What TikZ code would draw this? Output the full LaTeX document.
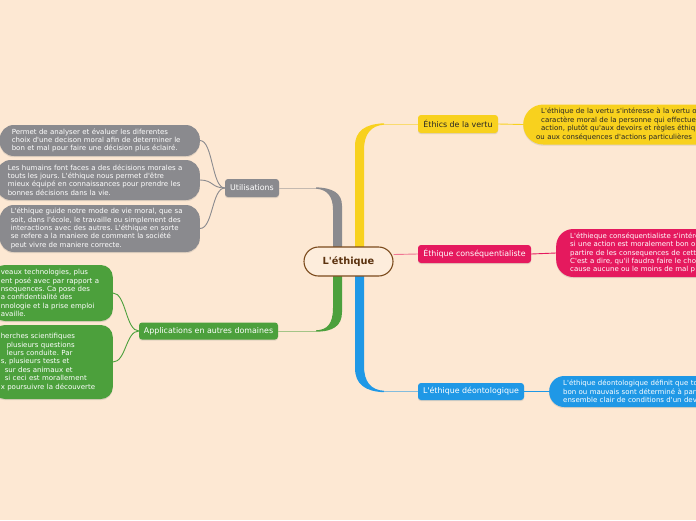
\documentclass[tikz,border=0pt]{standalone}
\usepackage{fontspec}
\setmainfont{DejaVu Sans}[Ligatures=TeXOff]
\frenchspacing
\usetikzlibrary{shadows,calc}
\definecolor{bg}{HTML}{FDE8D3}
\definecolor{gcol}{HTML}{8A8A8E}
\definecolor{grcol}{HTML}{4CA03C}
\definecolor{ycol}{HTML}{F8D11E}
\definecolor{pcol}{HTML}{E5195E}
\definecolor{bcol}{HTML}{1F98E6}
\definecolor{brownline}{HTML}{7B4A1C}
\definecolor{browntext}{HTML}{5C3310}
\tikzset{
  shad/.style={drop shadow={opacity=0.22, shadow xshift=0pt, shadow yshift=-1.2pt}},
  topic/.style={shad, rectangle, rounded corners=3pt, inner sep=0pt, font=\fontsize{7.9}{9}\selectfont},
  leaf/.style={shad, rectangle, align=left, inner ysep=0pt, font=\fontsize{7}{8.4}\selectfont},
  thinlink/.style={line width=0.9pt},
}
\begin{document}
\frenchspacing
\begin{tikzpicture}[x=1pt,y=-1pt]
\useasboundingbox (0,0) rectangle (696,520);
\fill[bg] (0,0) rectangle (696,520);
\clip (0,0) rectangle (696,520);

% main trunks
\fill[ycol] (355,262) -- (355,146) .. controls (355,131) and (365,124) .. (384,123.3) -- (384,124.7) .. controls (371,125.5) and (364,134) .. (364,150) -- (364,262) -- cycle;
\coordinate (ty) at (384,124);
\fill[bcol] (355,262) -- (355,368) .. controls (355,384) and (365,391.5) .. (384,392.2) -- (384,390.8) .. controls (371,390) and (364,382) .. (364,366) -- (364,262) -- cycle;
\coordinate (tb) at (384,391.5);
\fill[gcol] (342,262) -- (342,206) .. controls (342,193) and (333,188) .. (316,187.3) -- (316,188.7) .. controls (327,189.5) and (333,196) .. (333,210) -- (333,262) -- cycle;
\coordinate (tg) at (316,188);
\fill[grcol] (342,262) -- (342,312) .. controls (342,326) and (333,331.5) .. (316,331.7) -- (316,330.3) .. controls (327,330) and (333,324) .. (333,308) -- (333,262) -- cycle;
\coordinate (tgr) at (316,331);

% center
\node[draw=brownline, line width=1.1pt, fill=bg!80!white, rounded corners=14.5pt, minimum width=89pt, minimum height=29pt, inner sep=0pt, text=browntext, font=\fontsize{9.8}{11}\selectfont\bfseries] (c) at (348.5,261.5) {L'éthique};

% topics
\node[topic, fill=ycol, text=black!85, minimum width=80pt, minimum height=18pt] (vertu) at (458,124) {Éthics de la vertu};
\node[topic, fill=pcol, text=white, minimum width=113pt, minimum height=18pt] (conseq) at (474.5,254) {Éthique conséquentialiste};
\node[topic, fill=bcol, text=white, minimum width=106pt, minimum height=17pt] (deonto) at (471,391.5) {L'éthique déontologique};
\node[topic, fill=gcol, text=white, minimum width=54pt, minimum height=18pt] (util) at (252,188) {Utilisations};
\node[topic, fill=grcol, text=white, minimum width=139pt, minimum height=17pt] (appl) at (208.5,331) {Applications en autres domaines};

% trunk ends to topics
\draw[ycol!55!bg, thinlink] (ty) -- (vertu.west);
\draw[bcol!55!bg, thinlink] (tb) -- (deonto.west);
\draw[gcol!50!bg, thinlink] (tg) -- (util.east);
\draw[grcol!50!bg, thinlink] (tgr) -- (appl.east);
\draw[pcol!55!bg, thinlink] ($(c.east)+(0,-7)$) -- (conseq.west);

% gray leaves
\node[leaf, fill=gcol, text=white, rounded corners=14pt, anchor=east, inner xsep=12pt, text width=176pt, minimum height=31pt] (u1) at (200,140.5) {Permet de analyser et évaluer les diferentes\\choix d'une decison moral afin de determiner le\\bon et mal pour faire une décision plus éclairé.};
\node[leaf, fill=gcol, text=white, rounded corners=14pt, anchor=east, inner xsep=11pt, text width=181pt, minimum height=40pt] (u2) at (200,180) {Les humains font faces a des décisions morales a\\touts les jours. L'éthique nous permet d'être\\mieux équipé en connaissances pour prendre les\\bonnes décisions dans la vie.};
\node[leaf, fill=gcol, text=white, rounded corners=14pt, anchor=east, inner xsep=11pt, text width=178pt, minimum height=47pt] (u3) at (200,228.5) {L'éthique guide notre mode de vie moral, que sa\\soit, dans l'école, le travaille ou simplement des\\interactions avec des autres. L'éthique en sorte\\se refere a la maniere de comment la société\\peut vivre de maniere correcte.};

% green leaves
\node[leaf, fill=grcol, text=white, rounded corners=12pt, anchor=east, inner xsep=8pt, text width=104pt, minimum height=56pt] (a1) at (113,293) {veaux technologies, plus\\ent posé avec par rapport a\\nsequences. Ca pose des\\a confidentialité des\\nnologie et la prise emploi\\availle.};
\node[leaf, fill=grcol, text=white, rounded corners=12pt, anchor=east, inner xsep=8pt, text width=104pt, minimum height=74pt] (a2) at (113,362) {herches scientifiques\\\hspace*{6pt}plusieurs questions\\\hspace*{6pt}leurs conduite. Par\\s, plusieurs tests et\\\hspace*{4pt}sur des animaux et\\\hspace*{4pt}si ceci est morallement\\x poursuivre la découverte};

% right leaves
\node[leaf, fill=ycol, text=black!85, rounded corners=20pt, anchor=west, inner xsep=18pt, text width=240pt, minimum height=40pt] (y1) at (523,124.5) {L'éthique de la vertu s'intéresse à la vertu o\\caractère moral de la personne qui effectue\\action, plutôt qu'aux devoirs et règles éthiq\\\hspace*{-5pt}ou aux conséquences d'actions particulières};
\node[leaf, fill=pcol, text=white, rounded corners=17pt, anchor=west, inner xsep=14pt, text width=220pt, minimum height=48pt] (p1) at (556,253) {L'éthieque conséquentialiste s'intére\\si une action est moralement bon o\\partire de les consequences de cett\\C'est a dire, qu'il faudra faire le cho\\cause aucune ou le moins de mal p};
\node[leaf, fill=bcol, text=white, rounded corners=15pt, anchor=west, inner xsep=14pt, text width=220pt, minimum height=31pt] (b1) at (549,391.5) {L'éthique déontologique définit que to\\bon ou mauvais sont déterminé à part\\ensemble clair de conditions d'un dev};

% topic to leaf links
\draw[ycol, thinlink] (vertu.east) -- (y1.west);
\draw[pcol, thinlink] (conseq.east) -- (p1.west);
\draw[bcol, thinlink] (deonto.east) -- (b1.west);
\draw[gcol, thinlink] (util.west) .. controls +(-13,0) and +(13,0) .. (u1.east);
\draw[gcol, thinlink] (util.west) .. controls +(-13,0) and +(13,0) .. (u2.east);
\draw[gcol, thinlink] (util.west) .. controls +(-13,0) and +(13,0) .. (u3.east);
\draw[grcol, thinlink] (appl.west) .. controls +(-13,0) and +(13,0) .. (a1.east);
\draw[grcol, thinlink] (appl.west) .. controls +(-13,0) and +(13,0) .. (a2.east);
\end{tikzpicture}
\end{document}
